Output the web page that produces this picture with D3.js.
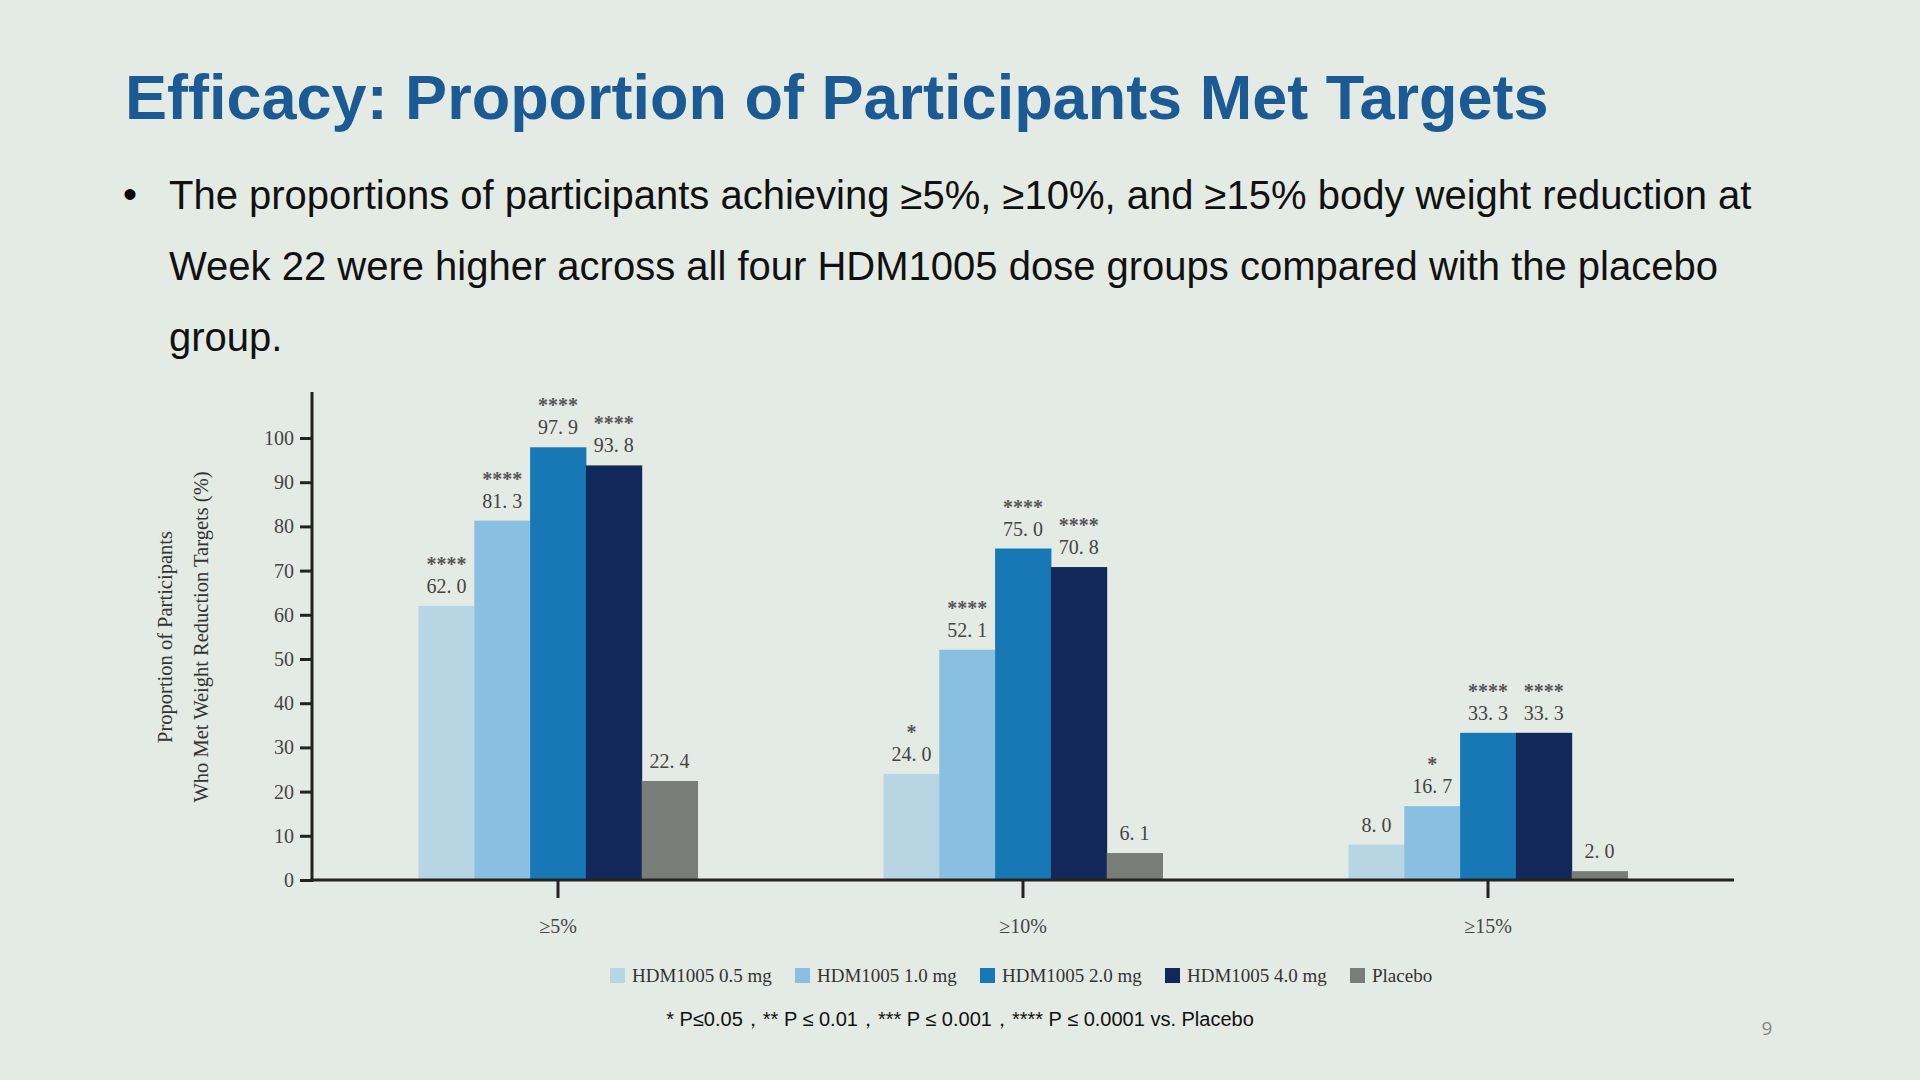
<!DOCTYPE html>
<html><head><meta charset="utf-8">
<script src="https://cdn.jsdelivr.net/npm/d3@7"></script>
<style>body{margin:0;background:#e4eae4;}svg{display:block}</style>
</head><body>
<svg id="chart" width="1920" height="1080"></svg>
<script>
const categories = ['≥5%', '≥10%', '≥15%'];
const seriesNames = ['HDM1005 0.5 mg', 'HDM1005 1.0 mg', 'HDM1005 2.0 mg', 'HDM1005 4.0 mg', 'Placebo'];
const seriesColors = ['#b8d5e4', '#89bfe0', '#1878b5', '#13285a', '#787d77'];
const values = [
  [62.0, 81.3, 97.9, 93.8, 22.4],
  [24.0, 52.1, 75.0, 70.8, 6.1],
  [8.0, 16.7, 33.3, 33.3, 2.0]
];
const stars = [
  ['****', '****', '****', '****', ''],
  ['*', '****', '****', '****', ''],
  ['', '*', '****', '****', '']
];
const yTicks = [0, 10, 20, 30, 40, 50, 60, 70, 80, 90, 100];

const svg = d3.select('#chart');
svg.append('rect').attr('width', 1920).attr('height', 1080).attr('fill', '#e4eae4');

svg.append('text').attr('x', 125).attr('y', 119)
  .style('font', 'bold 63px "Liberation Sans", Arial, sans-serif').attr('fill', '#1b5a92')
  .text('Efficacy: Proportion of Participants Met Targets');

const bulletFont = '40px "Liberation Sans", Arial, sans-serif';
svg.append('text').attr('x', 123).attr('y', 208).style('font', bulletFont).text('•');
['The proportions of participants achieving ≥5%, ≥10%, and ≥15% body weight reduction at',
 'Week 22 were higher across all four HDM1005 dose groups compared with the placebo',
 'group.'].forEach((t, i) => {
  svg.append('text').attr('x', 169).attr('y', 209 + i * 71).style('font', bulletFont).attr('fill', '#111').text(t);
});

const serif = '"Liberation Serif", "DejaVu Serif", serif';
const left = 312, right = 1734, base = 880;
const y = d3.scaleLinear().domain([0, 100]).range([base, 438]);
const x0 = d3.scaleBand().domain(categories).range([325.5, 1720.5]).paddingInner(0.4).paddingOuter(0.2);
const x1 = d3.scaleBand().domain(seriesNames).range([0, x0.bandwidth()]);

const g = svg.append('g');
categories.forEach((c, ci) => {
  const grp = g.append('g').attr('transform', `translate(${x0(c)},0)`);
  seriesNames.forEach((s, si) => {
    const v = values[ci][si];
    const bx = x1(s), bw = x1.bandwidth();
    grp.append('rect').attr('x', bx).attr('y', y(v)).attr('width', bw + 0.5)
      .attr('height', base - y(v)).attr('fill', seriesColors[si]);
    grp.append('text').attr('x', bx + bw / 2).attr('y', y(v) - 13).attr('text-anchor', 'middle')
      .style('font', `20px ${serif}`).attr('fill', '#444').text(v.toFixed(1).replace('.', '. '));
    if (stars[ci][si]) {
      grp.append('text').attr('x', bx + bw / 2).attr('y', y(v) - 35).attr('text-anchor', 'middle')
        .style('font', `bold 20px ${serif}`).attr('fill', '#555').text(stars[ci][si]);
    }
  });
});

// y axis
const ya = svg.append('g').attr('transform', `translate(${left},0)`)
  .call(d3.axisLeft(y).tickValues(yTicks).tickSize(12).tickPadding(6));
ya.select('.domain').remove();
ya.selectAll('line').attr('stroke', '#222').attr('stroke-width', 3);
ya.selectAll('text').style('font', `20px ${serif}`).attr('fill', '#444');
svg.append('line').attr('x1', left).attr('x2', left).attr('y1', 392).attr('y2', base + 2)
  .attr('stroke', '#222').attr('stroke-width', 3);

// x axis
const xa = svg.append('g').attr('transform', `translate(0,${base})`)
  .call(d3.axisBottom(x0).tickSize(18).tickPadding(21));
xa.select('.domain').remove();
xa.selectAll('line').attr('stroke', '#222').attr('stroke-width', 3).attr('y1', 0);
xa.selectAll('text').style('font', `20px ${serif}`).attr('fill', '#444');
svg.append('line').attr('x1', left - 1.5).attr('x2', right).attr('y1', base).attr('y2', base)
  .attr('stroke', '#222').attr('stroke-width', 3);

// y title
const yt = svg.append('text').attr('transform', 'translate(172,637) rotate(-90)')
  .attr('text-anchor', 'middle').style('font', `20.5px ${serif}`).attr('fill', '#333');
yt.append('tspan').attr('x', 0).attr('dy', 0).text('Proportion of Participants');
yt.append('tspan').attr('x', 0).attr('dy', 36).text('Who Met Weight Reduction Targets (%)');

// legend
const legendWidths = [185, 185, 185, 185, 100];
let lx = 610;
seriesNames.forEach((s, i) => {
  svg.append('rect').attr('x', lx).attr('y', 968).attr('width', 15).attr('height', 15).attr('fill', seriesColors[i]);
  svg.append('text').attr('x', lx + 22).attr('y', 982).style('font', `19px ${serif}`).attr('fill', '#333').text(s);
  lx += legendWidths[i];
});

svg.append('text').attr('x', 960).attr('y', 1026).attr('text-anchor', 'middle')
  .style('font', '20px "Liberation Sans", Arial, sans-serif').attr('fill', '#111')
  .text('* P≤0.05，** P ≤ 0.01，*** P ≤ 0.001，**** P ≤ 0.0001 vs. Placebo');
svg.append('text').attr('x', 1767).attr('y', 1035).attr('text-anchor', 'middle')
  .style('font', '19px "Open Sans", sans-serif').attr('fill', '#888').text('9');
</script>
</body></html>
